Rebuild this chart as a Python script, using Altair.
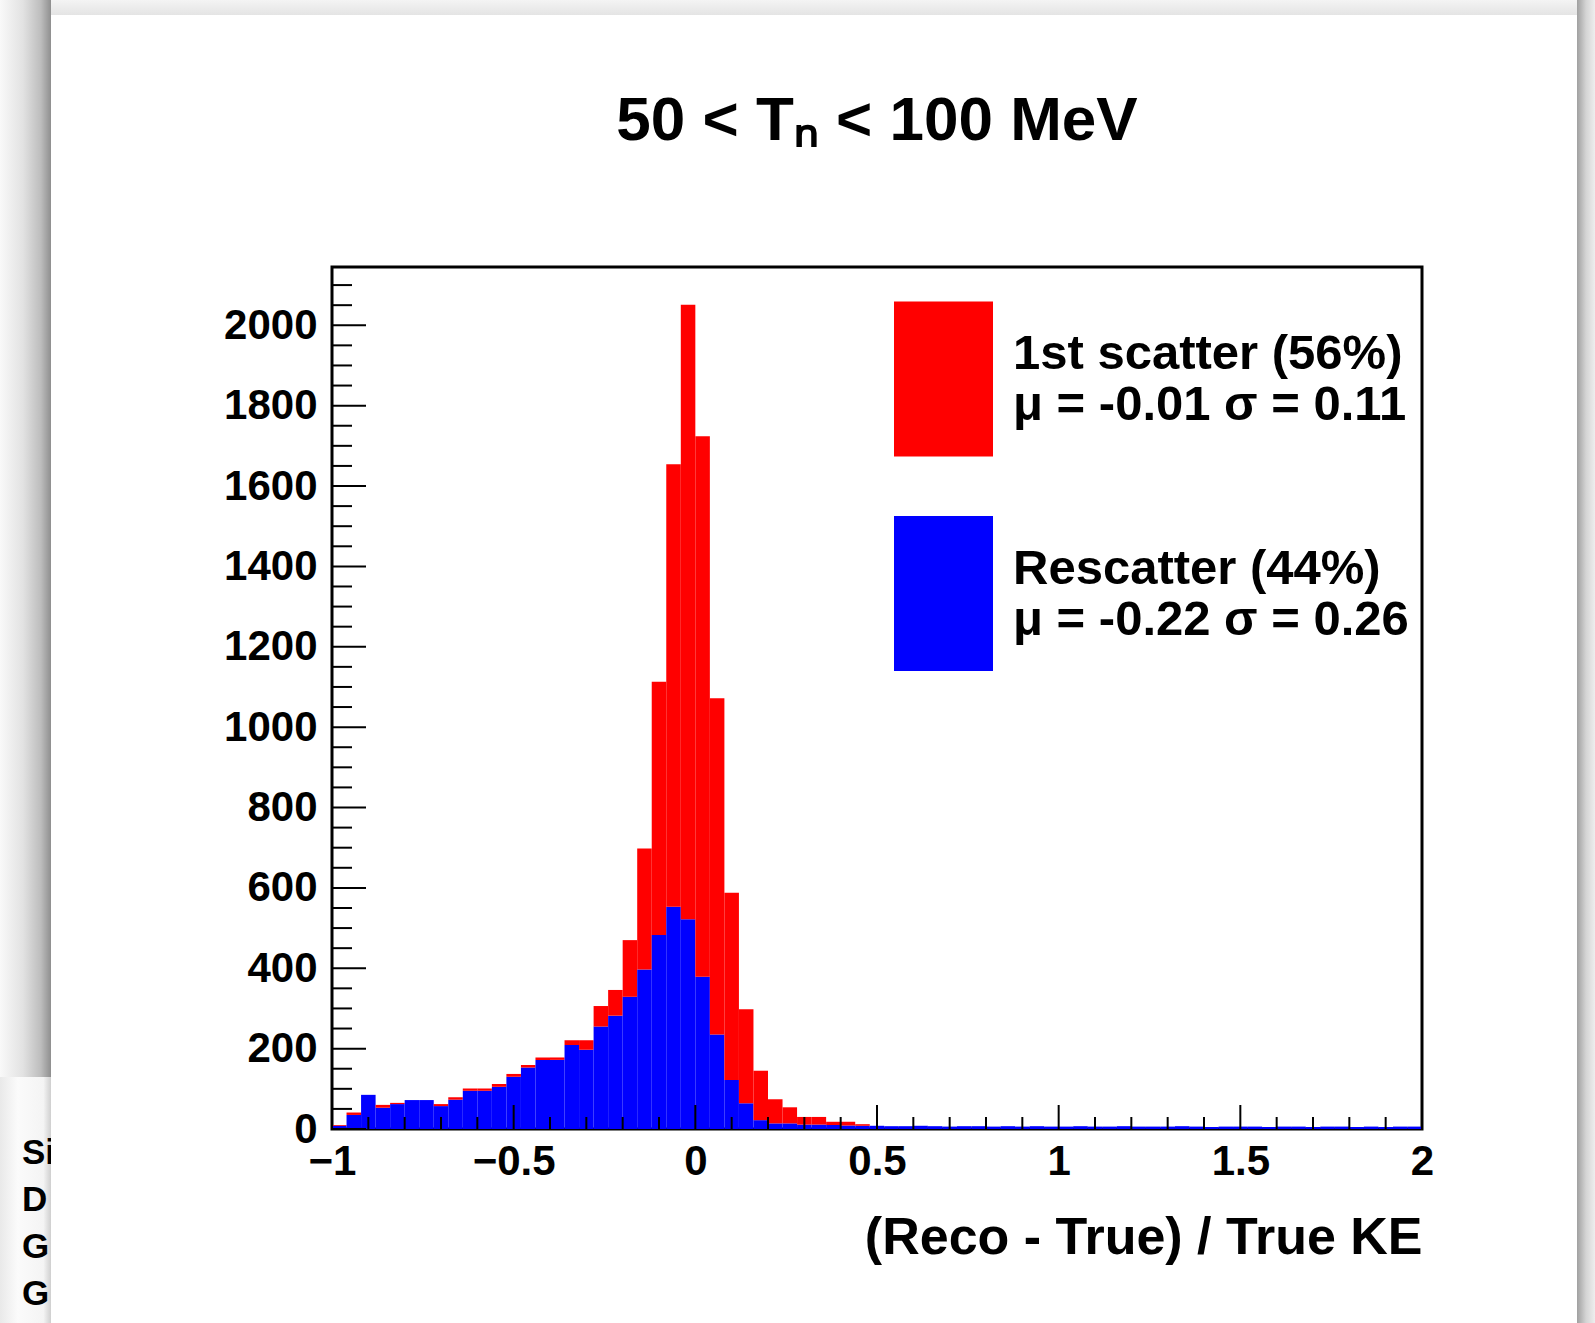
import altair as alt
import pandas as pd

# ---------------- data ----------------
BIN_WIDTH = 0.04
N_BINS = 75
bin_lo = [round(-1 + BIN_WIDTH * i, 2) for i in range(N_BINS)]
bin_hi = [round(v + BIN_WIDTH, 2) for v in bin_lo]

rescatter = [8, 35, 85, 53, 62, 72, 72, 57, 73, 95,
             95, 105, 130, 153, 172, 172, 209, 197, 255, 282,
             329, 397, 483, 553, 522, 379, 235, 122, 64, 22,
             14, 14, 11, 11, 10, 9, 8,
             8, 7, 7, 8, 7, 6, 7, 7, 6, 7,
             6, 7, 6, 6, 7, 6, 6, 7, 6, 6,
             6, 7, 6, 5, 6, 6, 6, 5, 6, 6,
             5, 6, 6, 5, 6, 5, 6, 6]

first_scatter = [2, 6, 0, 7, 3, 0, 0, 5, 6, 6,
                 6, 7, 7, 6, 6, 6, 12, 24, 51, 64,
                 141, 301, 630, 1101, 1529, 1345, 837, 466, 234, 123,
                 60, 40, 19, 19, 8, 9, 4,
                 0, 0, 0, 0, 0, 0, 0, 0, 0, 0,
                 0, 0, 0, 0, 0, 0, 0, 0, 0, 0,
                 0, 0, 0, 0, 0, 0, 0, 0, 0, 0,
                 0, 0, 0, 0, 0, 0, 0, 0]

series_names = ["1st scatter", "Rescatter"]
series_colors = ["#ff0000", "#0000ff"]
legend_line1 = ["1st scatter (56%)", "Rescatter (44%)"]
legend_line2 = ["\u03bc = -0.01 \u03c3 = 0.11", "\u03bc = -0.22  \u03c3 = 0.26"]

title_text = "50 < T\u2099 < 100 MeV"
x_title = "(Reco - True) / True KE"
x_major = [-1, -0.5, 0, 0.5, 1, 1.5, 2]
x_minor = [round(-1 + 0.1 * i, 1) for i in range(31) if i % 5 != 0]
y_major = list(range(0, 2001, 200))
y_minor = [v for v in range(50, 2101, 50) if v % 200 != 0]

# partly hidden text of a neighbouring slide element at the lower left edge
edge_text = "Si\nD\nG\nG"

# ---------------- table ----------------
rows = []
for lo, hi, b, r in zip(bin_lo, bin_hi, rescatter, first_scatter):
    rows.append(dict(series="Rescatter", lo=lo, hi=hi, y0=0, y1=b))
    rows.append(dict(series="1st scatter", lo=lo, hi=hi, y0=b, y1=b + r))
df = pd.DataFrame(rows)

# ---------------- layout ----------------
W, H = 1090, 862
OX, OY = 332, 267          # plot origin inside the 1595 x 1323 page
PAD = {"left": OX, "top": OY, "right": 1595 - OX - W, "bottom": 1323 - OY - H}
FONT = "Liberation Sans"

xscale = alt.Scale(domain=[-1, 2], nice=False, zero=False)
yscale = alt.Scale(domain=[0, 2145], nice=False, zero=True)

xaxis = alt.Axis(values=x_major, format=".1~f", grid=False, ticks=False, tickSize=0,
                 domain=False, labelFlush=False, labelOverlap=False, labelBound=False,
                 labelFont=FONT, labelFontSize=42, labelFontWeight="bold", labelColor="black",
                 labelPadding=12, title=x_title, titleFont=FONT, titleFontSize=52,
                 titleFontWeight="bold", titleColor="black", titleX=W, titleY=124,
                 titleAlign="right", titleBaseline="alphabetic")
yaxis = alt.Axis(values=y_major, format="d", grid=False, ticks=False, tickSize=0,
                 domain=False, labelFlush=False, labelOverlap=False, labelBound=False,
                 labelFont=FONT, labelFontSize=42, labelFontWeight="bold", labelColor="black",
                 labelPadding=15, title=None)

label_expr = ("datum.label == '%s' ? ['%s', '%s'] : ['%s', '%s']"
              % (series_names[0], legend_line1[0], legend_line2[0], legend_line1[1], legend_line2[1]))

SWATCH = "M-0.9,-1.409L0.9,-1.409L0.9,1.409L-0.9,1.409Z"
one = pd.DataFrame({"k": [0]})


def px(x):  # page pixel -> plot-relative pixel
    return x - OX


def py(y):
    return y - OY


def grad(stops, horizontal=True):
    return alt.LinearGradient(
        gradient="linear",
        stops=[alt.GradientStop(offset=o, color=c) for o, c in stops],
        x1=0, x2=1 if horizontal else 0, y1=0, y2=0 if horizontal else 1)


def make_chart(legend_encode):
    legend_kwargs = dict(title=None, orient="none", legendX=556.5, legendY=57,
                         direction="vertical", symbolType=SWATCH, symbolSize=12100,
                         symbolStrokeWidth=0, symbolOpacity=1, rowPadding=58.5,
                         labelExpr=label_expr, labelFont=FONT, labelFontSize=49,
                         labelFontWeight="bold", labelColor="black", labelOffset=14.5,
                         labelLimit=2000, labelBaseline="bottom", padding=0)
    if legend_encode is not None:
        legend_kwargs["encode"] = legend_encode
    legend = alt.Legend(**legend_kwargs)

    # slide-shadow surroundings of the picture
    top_strip = alt.Chart(one).mark_rect(
        fill=grad([(0, "#f4f4f4"), (1, "#e4e4e4")], horizontal=False)).encode(
        x=alt.value(px(0)), x2=alt.value(px(1595)), y=alt.value(py(0)), y2=alt.value(py(15)))
    left_strip = alt.Chart(one).mark_rect(
        fill=grad([(0, "#f9f9f9"), (0.45, "#e2e2e2"), (0.8, "#bdbdbd"), (1, "#8f8f8f")])).encode(
        x=alt.value(px(0)), x2=alt.value(px(51)), y=alt.value(py(0)), y2=alt.value(py(1077)))
    right_strip = alt.Chart(one).mark_rect(
        fill=grad([(0, "#a0a0a0"), (0.5, "#d4d4d4"), (1, "#eeeeee")])).encode(
        x=alt.value(px(1577)), x2=alt.value(px(1595)), y=alt.value(py(0)), y2=alt.value(py(1323)))
    low_left = alt.Chart(one).mark_rect(
        fill=grad([(0, "#e9e9e9"), (0.35, "#fbfbfb"), (0.85, "#f4f4f4"), (1, "#cfcfcf")])).encode(
        x=alt.value(px(0)), x2=alt.value(px(51)), y=alt.value(py(1077)), y2=alt.value(py(1323)))
    edge_txt = alt.Chart(one).mark_text(
        font=FONT, fontSize=35, fontWeight="bold", color="black", align="left",
        baseline="middle", lineBreak="\n", lineHeight=47).encode(
        x=alt.value(px(22)), y=alt.value(py(1153)), text=alt.value(edge_text))
    edge_cover = alt.Chart(one).mark_rect(fill="white").encode(
        x=alt.value(px(51)), x2=alt.value(px(110)), y=alt.value(py(1077)), y2=alt.value(py(1323)))

    bars = alt.Chart(df).mark_rect().encode(
        x=alt.X("lo:Q", scale=xscale, axis=xaxis),
        x2="hi:Q",
        y=alt.Y("y1:Q", scale=yscale, axis=yaxis),
        y2="y0:Q",
        color=alt.Color("series:N", scale=alt.Scale(domain=series_names, range=series_colors),
                        legend=legend),
    )

    ymaj = alt.Chart(pd.DataFrame({"v": y_major})).mark_rule(color="black", strokeWidth=2).encode(
        y=alt.Y("v:Q", scale=yscale, axis=yaxis), x=alt.value(0), x2=alt.value(34))
    ymin = alt.Chart(pd.DataFrame({"v": y_minor})).mark_rule(color="black", strokeWidth=2).encode(
        y=alt.Y("v:Q", scale=yscale, axis=yaxis), x=alt.value(0), x2=alt.value(20))
    xmaj = alt.Chart(pd.DataFrame({"v": x_major})).mark_rule(color="black", strokeWidth=2).encode(
        x=alt.X("v:Q", scale=xscale, axis=xaxis), y=alt.value(H), y2=alt.value(H - 24))
    xmin = alt.Chart(pd.DataFrame({"v": x_minor})).mark_rule(color="black", strokeWidth=2).encode(
        x=alt.X("v:Q", scale=xscale, axis=xaxis), y=alt.value(H), y2=alt.value(H - 12))

    chart = alt.layer(top_strip, left_strip, right_strip, low_left, edge_txt, edge_cover,
                      bars, ymaj, ymin, xmaj, xmin).properties(
        width=W, height=H,
        autosize=alt.AutoSizeParams(type="none"),
        padding=PAD,
        background="white",
        title=alt.TitleParams(title_text, font=FONT, fontSize=62, fontWeight="bold",
                              color="black", anchor="middle", frame="group",
                              baseline="alphabetic", offset=65 - OY),
    ).configure_view(stroke="black", strokeWidth=3)
    return chart


chart = None
for enc in ({"labels": {"lineHeight": {"value": 61}}},
            {"labels": {"update": {"lineHeight": {"value": 61}}}},
            None):
    try:
        c = make_chart(enc)
        c.to_dict()
        chart = c
        break
    except Exception:
        continue

chart.save("out.html", embed_options={"renderer": "svg", "actions": False})
